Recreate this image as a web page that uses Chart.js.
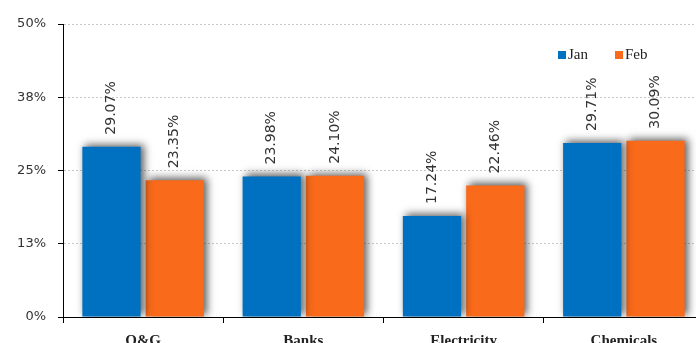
<!DOCTYPE html>
<html>
<head>
<meta charset="utf-8">
<script src="https://cdn.jsdelivr.net/npm/chart.js@4/dist/chart.umd.min.js"></script>
<style>
  html, body { margin: 0; padding: 0; background: #fff; overflow: hidden; }
  #wrap { position: relative; width: 705px; height: 343px; }
</style>
</head>
<body>
<div id="wrap"><canvas id="chart"></canvas></div>
<script>
// Valores mensais por setor (%)
const categories = ['O&G', 'Banks', 'Electricity', 'Chemicals'];
const janValues = [29.07, 23.98, 17.24, 29.71];
const febValues = [23.35, 24.10, 22.46, 30.09];
const yTicks = [0, 12.5, 25, 37.5, 50];

const blue = '#0070C0';
const orange = '#F96A1A';

/**
 * Sombra nas barras + rótulos verticais com o valor
 */
const barExtras = {
    id: 'barExtras',
    beforeDatasetsDraw(chart) {
        const ctx = chart.ctx;
        ctx.save();
        ctx.shadowColor = 'rgba(0,0,0,0.65)';
        ctx.shadowBlur = 8;
        ctx.shadowOffsetX = 3;
        ctx.shadowOffsetY = -2;
    },
    afterDatasetsDraw(chart) {
        const ctx = chart.ctx;
        ctx.restore();
        ctx.save();
        ctx.font = '14px "DejaVu Sans"';
        ctx.fillStyle = '#333';
        ctx.textAlign = 'left';
        ctx.textBaseline = 'middle';
        chart.data.datasets.forEach((ds, i) => {
            chart.getDatasetMeta(i).data.forEach((bar, j) => {
                ctx.save();
                ctx.translate(bar.x, bar.y - 12);
                ctx.rotate(-Math.PI / 2);
                ctx.fillText(ds.data[j].toFixed(2) + '%', 0, 0);
                ctx.restore();
            });
        });
        ctx.restore();
    },
    afterDraw(chart) {
        // legenda dentro da área do gráfico
        const ctx = chart.ctx;
        const pos = [558, 615];
        ctx.save();
        ctx.font = '15px "Liberation Serif"';
        ctx.textBaseline = 'middle';
        chart.data.datasets.forEach((ds, i) => {
            ctx.fillStyle = ds.backgroundColor;
            ctx.fillRect(pos[i], 51, 8, 8);
            ctx.fillStyle = '#222';
            ctx.fillText(ds.label, pos[i] + 10, 55);
        });
        ctx.restore();
    }
};

new Chart(document.getElementById('chart'), {
    type: 'bar',
    data: {
        labels: categories,
        datasets: [
            { label: 'Jan', data: janValues, backgroundColor: blue },
            { label: 'Feb', data: febValues, backgroundColor: orange }
        ]
    },
    options: {
        responsive: true,
        maintainAspectRatio: false,
        animation: false,
        layout: { padding: { top: 24, right: 1, left: 0, bottom: 0 } },
        datasets: {
            bar: { categoryPercentage: 0.79, barPercentage: 0.92 }
        },
        plugins: {
            legend: { display: false },
            tooltip: { enabled: false }
        },
        scales: {
            x: {
                grid: {
                    display: true,
                    drawOnChartArea: false,
                    offset: true,
                    tickLength: 6,
                    tickColor: '#000'
                },
                border: { color: '#000', width: 1 },
                ticks: {
                    padding: 9,
                    color: '#222',
                    font: { family: '"Liberation Serif"', size: 15, weight: 'bold' }
                },
                afterFit(scale) { scale.height = 26; }
            },
            y: {
                min: 0,
                max: 50,
                afterBuildTicks(scale) {
                    scale.ticks = yTicks.map(v => ({ value: v }));
                },
                grid: {
                    color: (c) => c.tick && c.tick.value === 0 ? 'rgba(0,0,0,0)' : '#c8c8c8',
                    tickColor: '#000',
                    tickLength: 5
                },
                border: { color: '#000', width: 1, dash: [2, 2] },
                ticks: {
                    padding: 12,
                    color: '#333',
                    font: { family: '"DejaVu Sans"', size: 13 },
                    callback: (v) => Math.round(v) + '%'
                },
                afterFit(scale) { scale.width = 63; }
            }
        }
    },
    plugins: [barExtras]
});
</script>
</body>
</html>
